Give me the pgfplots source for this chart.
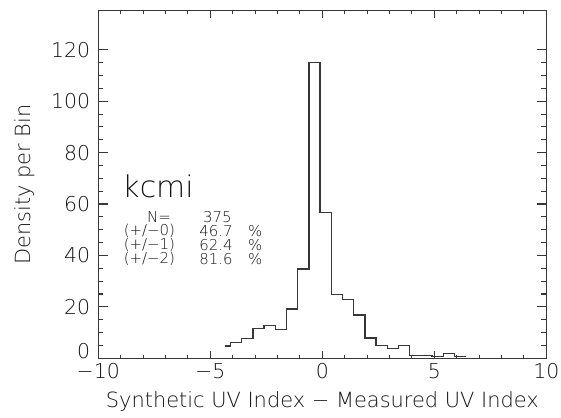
\documentclass[border=0pt]{standalone}
\usepackage{fontspec}
\setmainfont{DejaVu Sans ExtraLight}
\usepackage{pgfplots}
\pgfplotsset{compat=1.18}
\definecolor{ink}{RGB}{55,55,55}
\definecolor{tink}{RGB}{20,20,20}
\begin{document}
\begin{tikzpicture}
\begin{axis}[
  name=ax,
  scale only axis,
  width=448bp, height=347.6bp,
  xmin=-10, xmax=10, ymin=0, ymax=135.2,
  axis line style={ink, line width=1.1bp},
  tick style={ink, line width=1.1bp},
  tick align=inside,
  xtick={-10,-5,0,5,10},
  xticklabels={−10,−5,0,5,10},
  ytick={0,20,40,60,80,100,120},
  yticklabels={\raisebox{0bp}[0pt][0pt]{0},20,40,60,80,100,120},
  minor x tick num=4,
  minor y tick num=3,
  xtick style={/pgfplots/major tick length=7.5bp, /pgfplots/minor tick length=3.8bp},
  ytick style={/pgfplots/major tick length=9.5bp, /pgfplots/minor tick length=5bp},
  xticklabel style={font=\fontsize{20.5}{24}\selectfont, text=tink, anchor=north, inner sep=0pt, yshift=-5bp},
  yticklabel style={font=\fontsize{20.5}{24}\selectfont, text=tink, anchor=east, inner sep=0pt, xshift=-8bp},
  xlabel={Synthetic UV Index − Measured UV Index},
  ylabel={Density per Bin},
  xlabel style={font=\fontsize{21}{24}\selectfont, text=tink, at={(axis description cs:0.5,0)}, anchor=north, inner sep=0pt, yshift=-33.5bp},
  ylabel style={font=\fontsize{21}{24}\selectfont, text=tink, at={(axis description cs:0,0.5)}, anchor=center, inner sep=0pt, yshift=74bp},
  clip=false,
]
\addplot[const plot, color=ink, line width=1.3bp] coordinates {
  (-4.35,4.8) (-4.1,6.1) (-3.6,7.8) (-3.1,11.7) (-2.6,12.8) (-2.1,11.3)
  (-1.6,19.2) (-1.1,34.7) (-0.6,115.0) (-0.1,56.8) (0.4,24.9) (0.9,23.0)
  (1.4,16.8) (1.9,7.9) (2.4,5.1) (2.9,3.9) (3.4,5.1) (3.9,1.0) (4.4,1.0)
  (4.9,0.8) (5.4,2.0) (5.9,0.8) (6.4,0.8)
};
\node[anchor=west, inner sep=0pt, text=tink, font=\fontsize{30}{32}\selectfont] at (axis cs:-8.93,67.0) {kcmi};
\node[anchor=west, inner sep=0pt, text=tink, font=\fontsize{15}{17}\selectfont] at (axis cs:-7.83,55.0) {N=};
\node[anchor=west, inner sep=0pt, text=tink, font=\fontsize{15}{17}\selectfont] at (axis cs:-5.33,55.0) {375};
\node[anchor=west, inner sep=0pt, text=tink, font=\fontsize{15}{17}\selectfont] at (axis cs:-8.87,49.5) {(+/−0)};
\node[anchor=west, inner sep=0pt, text=tink, font=\fontsize{15}{17}\selectfont] at (axis cs:-5.5,49.5) {46.7};
\node[anchor=west, inner sep=0pt, text=tink, font=\fontsize{15}{17}\selectfont] at (axis cs:-3.32,49.5) {\%};
\node[anchor=west, inner sep=0pt, text=tink, font=\fontsize{15}{17}\selectfont] at (axis cs:-8.87,44.1) {(+/−1)};
\node[anchor=west, inner sep=0pt, text=tink, font=\fontsize{15}{17}\selectfont] at (axis cs:-5.5,44.1) {62.4};
\node[anchor=west, inner sep=0pt, text=tink, font=\fontsize{15}{17}\selectfont] at (axis cs:-3.32,44.1) {\%};
\node[anchor=west, inner sep=0pt, text=tink, font=\fontsize{15}{17}\selectfont] at (axis cs:-8.87,38.6) {(+/−2)};
\node[anchor=west, inner sep=0pt, text=tink, font=\fontsize{15}{17}\selectfont] at (axis cs:-5.5,38.6) {81.6};
\node[anchor=west, inner sep=0pt, text=tink, font=\fontsize{15}{17}\selectfont] at (axis cs:-3.32,38.6) {\%};
\end{axis}
\pgfresetboundingbox
\path[use as bounding box] ([shift={(-98.3bp,-59.7bp)}]ax.south west) rectangle ([shift={(14.7bp,10.7bp)}]ax.north east);
\end{tikzpicture}
\end{document}
